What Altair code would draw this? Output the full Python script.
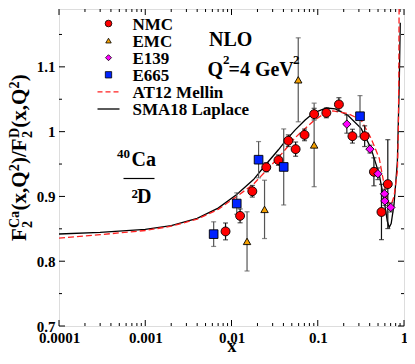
import altair as alt
import pandas as pd

# ---------------- data ----------------
nmc_x = [0.00853, 0.01258, 0.01743, 0.0253, 0.035, 0.0456, 0.0554, 0.0703, 0.0908, 0.1258,
         0.1759, 0.2524, 0.3499, 0.448, 0.548, 0.649]
nmc_y = [0.846, 0.870, 0.908, 0.945, 0.956, 0.986, 0.973, 0.995, 1.027, 1.029,
         1.042, 0.993, 0.993, 0.938, 0.876, 0.919]
nmc_e = [0.013, 0.0107, 0.009, 0.007, 0.008, 0.009, 0.011, 0.009, 0.009, 0.0076,
         0.0104, 0.0107, 0.016, 0.0216, 0.0427, 0.0686]

emc_x = [0.01514, 0.02416, 0.0594, 0.0908]
emc_y = [0.8306, 0.880, 1.080, 0.9795]
emc_e = [0.0457, 0.045, 0.0648, 0.0645]

e139_x = [0.2174, 0.403, 0.498, 0.595, 0.600, 0.703]
e139_y = [1.0116, 0.973, 0.935, 0.904, 0.893, 0.883]
e139_e = [0.014, 0.006, 0.009, 0.007, 0.007, 0.007]

e665_x = [0.00621, 0.0115, 0.0206, 0.0403, 0.309]
e665_y = [0.8418, 0.889, 0.9567, 0.9455, 1.0238]
e665_e = [0.019, 0.0165, 0.028, 0.0587, 0.0318]

sma_x = [0.0001, 0.0003, 0.001, 0.002, 0.004, 0.007, 0.0115, 0.018, 0.0253, 0.035, 0.0418,
         0.0541, 0.0714, 0.09, 0.126, 0.16, 0.2233, 0.318, 0.414, 0.516, 0.589, 0.64, 0.673,
         0.71, 0.767, 0.838, 0.88, 0.905]
sma_y = [0.842, 0.8445, 0.849, 0.855, 0.866, 0.882, 0.903, 0.926, 0.950, 0.972, 0.985,
         1.002, 1.018, 1.029, 1.0365, 1.035, 1.0253, 1.005, 0.9745, 0.934, 0.893, 0.862, 0.852,
         0.858, 0.888, 0.954, 1.07, 1.168]

at12_x = [0.0001, 0.0003, 0.001, 0.002, 0.004, 0.007, 0.0115, 0.018, 0.0253, 0.035, 0.0418,
          0.0541, 0.0714, 0.09, 0.126, 0.15, 0.2233, 0.318, 0.414, 0.516, 0.589, 0.643, 0.70,
          0.767, 0.838, 0.86, 0.87, 0.878]
at12_y = [0.8357, 0.841, 0.8474, 0.854, 0.865, 0.880, 0.900, 0.919, 0.940, 0.960, 0.972,
          0.990, 1.005, 1.017, 1.030, 1.032, 1.028, 1.018, 0.990, 0.959, 0.918, 0.895, 0.885,
          0.900, 0.939, 1.0, 1.08, 1.2]

legend_labels = ["NMC", "EMC", "E139", "E665", "AT12 Mellin", "SMA18 Laplace"]

x_major = [0.0001, 0.001, 0.01, 0.1, 1]
y_major = [0.7, 0.8, 0.9, 1.0, 1.1]
y_minor = [0.75, 0.85, 0.95, 1.05, 1.15]
x_minor = [m * d for d in [0.0001, 0.001, 0.01, 0.1] for m in range(2, 10)]

# ---------------- layout ----------------
W, H = 345, 317
FONT = "Liberation Serif"
xscale = alt.Scale(type="log", domain=[1e-4, 1], nice=False)
yscale = alt.Scale(domain=[0.7, 1.1893], nice=False, zero=False)

xaxis = alt.Axis(values=x_major, format="~g", ticks=False, domain=False, grid=False,
                 labelFont=FONT, labelFontWeight="bold", labelFontSize=15, labelColor="black",
                 labelPadding=4, labelOverlap=False, labelBound=False, labelFlush=False,
                 title="x", titleFont=FONT, titleFontWeight="bold", titleFontSize=18,
                 titleColor="black", titleBaseline="alphabetic", titleY=25)
yaxis = alt.Axis(values=y_major, format="~g", ticks=False, domain=False, grid=False,
                 labelFont=FONT, labelFontWeight="bold", labelFontSize=15, labelColor="black",
                 labelPadding=4, labelOverlap=False, labelBound=False, labelFlush=False,
                 title=None)


def X(f):
    return alt.X(f"{f}:Q", scale=xscale, axis=xaxis)


def Y(f):
    return alt.Y(f"{f}:Q", scale=yscale, axis=yaxis)


def series_df(xs, ys, es):
    return pd.DataFrame({"x": xs, "y": ys, "lo": [a - b for a, b in zip(ys, es)],
                         "hi": [a + b for a, b in zip(ys, es)]})


layers = []

# ticks (inside, all four sides)
xmaj = pd.DataFrame({"t": x_major})
xmin = pd.DataFrame({"t": x_minor})
ymaj = pd.DataFrame({"t": y_major})
ymin = pd.DataFrame({"t": y_minor})
for df, L in [(xmaj, 6), (xmin, 3)]:
    layers.append(alt.Chart(df).mark_rule(color="black", strokeWidth=1).encode(
        x=X("t"), y=alt.value(H), y2=alt.value(H - L)))
    layers.append(alt.Chart(df).mark_rule(color="black", strokeWidth=1).encode(
        x=X("t"), y=alt.value(0), y2=alt.value(L)))
for df, L in [(ymaj, 6), (ymin, 3)]:
    layers.append(alt.Chart(df).mark_rule(color="black", strokeWidth=1).encode(
        y=Y("t"), x=alt.value(0), x2=alt.value(L)))
    layers.append(alt.Chart(df).mark_rule(color="black", strokeWidth=1).encode(
        y=Y("t"), x=alt.value(W), x2=alt.value(W - L)))

# curves
sma = pd.DataFrame({"x": sma_x, "y": sma_y})
at12 = pd.DataFrame({"x": at12_x, "y": at12_y})
layers.append(alt.Chart(sma).mark_line(color="black", strokeWidth=1.3, clip=True).encode(
    x=X("x"), y=Y("y")))
layers.append(alt.Chart(at12).mark_line(color="#ff2020", strokeWidth=1.3, strokeDash=[6, 3],
                                        clip=True).encode(x=X("x"), y=Y("y")))

# data series
series = [
    (series_df(nmc_x, nmc_y, nmc_e), "circle", "#ff0000", 80, "#111111"),
    (series_df(emc_x, emc_y, emc_e), "triangle-up", "#f5a000", 55, "#555555"),
    (series_df(e665_x, e665_y, e665_e), "square", "#0022ff", 75, "#555555"),
    (series_df(e139_x, e139_y, e139_e), "diamond", "#ff00ff", 70, "#222222"),
]
for df, shape, col, size, ecol in series:
    base = alt.Chart(df)
    layers.append(base.mark_rule(color=ecol, strokeWidth=1.2).encode(
        x=X("x"), y=Y("lo"), y2="hi:Q"))
    layers.append(base.mark_tick(orient="horizontal", size=5, thickness=1.2, color=ecol).encode(
        x=X("x"), y=Y("lo")))
    layers.append(base.mark_tick(orient="horizontal", size=5, thickness=1.2, color=ecol).encode(
        x=X("x"), y=Y("hi")))
for df, shape, col, size, ecol in series:
    layers.append(alt.Chart(df).mark_point(shape=shape, filled=True, fill=col, stroke="black",
                                           strokeWidth=0.9, size=size, opacity=1).encode(
        x=X("x"), y=Y("y")))

# legend
leg_sym = [("circle", "#ff0000", 45), ("triangle-up", "#f5a000", 30),
           ("diamond", "#ff00ff", 36), ("square", "#0022ff", 40)]
row_y = [14.5, 31.6, 48.7, 65.8, 82.9, 100.0]
sym_x, line_x0, line_x1, text_x = 49.5, 38.5, 60.5, 73.5
one = pd.DataFrame({"a": [0]})
for i, (shape, col, size) in enumerate(leg_sym):
    layers.append(alt.Chart(one).mark_point(shape=shape, filled=True, fill=col, stroke="black",
                                            strokeWidth=0.8, size=size, opacity=1).encode(
        x=alt.value(sym_x), y=alt.value(row_y[i])))
layers.append(alt.Chart(one).mark_rule(color="#ff2020", strokeWidth=1.3, strokeDash=[5, 3]).encode(
    x=alt.value(line_x0), x2=alt.value(line_x1), y=alt.value(row_y[4])))
layers.append(alt.Chart(one).mark_rule(color="black", strokeWidth=1.3).encode(
    x=alt.value(line_x0), x2=alt.value(line_x1), y=alt.value(row_y[5])))
for i, lab in enumerate(legend_labels):
    layers.append(alt.Chart(pd.DataFrame({"t": [lab]})).mark_text(
        font=FONT, fontWeight="bold", fontSize=17, align="left", baseline="middle",
        color="black", dy=1).encode(x=alt.value(text_x), y=alt.value(row_y[i]), text="t:N"))

# annotations: (text, size, x, y, angle)
annots = [
    ("NLO", 20, 150, 37, 0),
    ("Q", 20, 148.5, 67, 0), ("2", 13, 164, 54.5, 0), ("=4 GeV", 20, 169.5, 67, 0),
    ("2", 13, 234, 54.5, 0),
    ("40", 13, 58, 149, 0), ("Ca", 20, 72.5, 156.5, 0),
    ("2", 13, 72.5, 189, 0), ("D", 20, 78, 194, 0),
    # rotated y-axis title
    ("F", 21, -33, 232, 270), ("2", 14, -27.5, 219, 270), ("Ca", 14, -40.5, 219, 270),
    ("(x,Q", 21, -33, 201.5, 270), ("2", 14, -40.5, 162.2, 270), (")/F", 21, -33, 155, 270),
    ("2", 14, -27.5, 129.1, 270), ("D", 14, -40.5, 129.1, 270), ("(x,Q", 21, -33, 118.7, 270),
    ("2", 14, -40.5, 79.4, 270), (")", 21, -33, 72.3, 270),
]
for t, s, px, py, ang in annots:
    layers.append(alt.Chart(pd.DataFrame({"t": [t]})).mark_text(
        font=FONT, fontWeight="bold", fontSize=s, align="left", baseline="alphabetic",
        color="black", angle=ang).encode(x=alt.value(px), y=alt.value(py), text="t:N"))

# fraction bar
layers.append(alt.Chart(one).mark_rule(color="black", strokeWidth=1.2).encode(
    x=alt.value(64.5), x2=alt.value(95.5), y=alt.value(169.5)))

chart = alt.layer(*layers).properties(
    width=W, height=H,
    padding={"left": 51, "top": 1, "right": 3, "bottom": 30},
    autosize=alt.AutoSizeParams(type="none"),
).configure_view(stroke="black", strokeWidth=1.5).configure(background="white")

chart.save("out.html", embed_options={"renderer": "svg", "actions": False})
